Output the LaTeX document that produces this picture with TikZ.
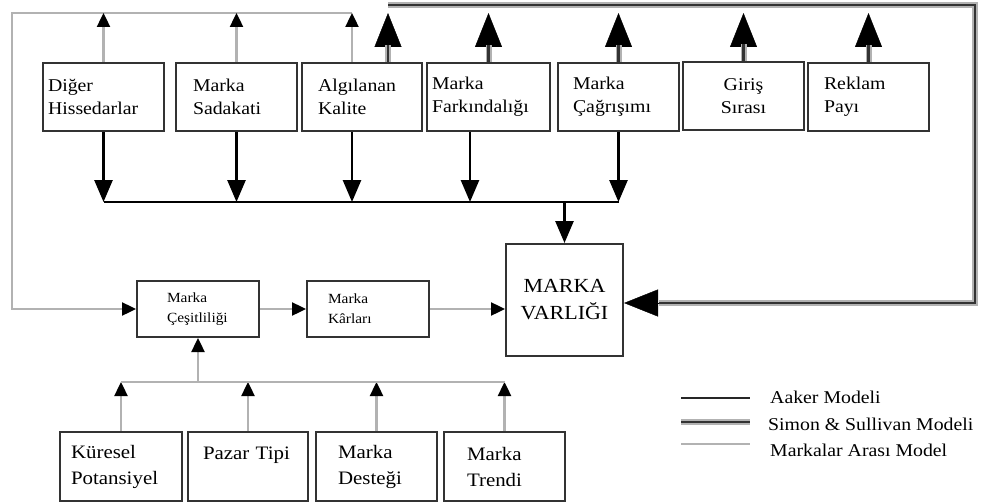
\documentclass[tikz,border=0pt]{standalone}
\usepackage{fontspec}
\setmainfont{Liberation Serif}[FakeStretch=1.1]
\usetikzlibrary{arrows.meta}
\begin{document}
\begin{tikzpicture}[x=1pt,y=-1pt,
  box/.style={draw=black!80, line width=2pt, fill=white, inner ysep=0pt},
  topbox/.style={box, minimum height=68pt, align=left, font=\fontsize{18}{23}\selectfont},
  midbox/.style={box, minimum height=56pt, align=left, font=\fontsize{14}{20}\selectfont},
  botbox/.style={box, minimum height=69pt, align=left, font=\fontsize{19}{26}\selectfont},
  legtext/.style={anchor=west, inner sep=0pt, font=\fontsize{18}{22}\selectfont},
  aak/.style={draw=black, line width=2.7pt},
  aakarrow/.style={aak, -{Triangle[width=18pt,length=22pt]}},
  gline/.style={draw=gray!60, line width=2.4pt},
  garrow/.style={gline, -{Triangle[width=13pt,length=14pt,color=black,fill=black]}},
  simline/.style={draw=gray!60, line width=6pt, postaction={draw=black!80, line width=2.6pt}},
  simtip/.style={draw=black, line width=0.4pt, -{Triangle[width=27pt,length=34pt]}}
]
\fill[white] (0,0) rectangle (988,503);
\useasboundingbox (0,0) rectangle (988,503);

% top row
\node[topbox, inner xsep=5pt, text width=111pt] (dig) at (103.5,97) {Diğer\\Hissedarlar};
\node[topbox, inner xsep=17pt, text width=87pt] (sad) at (236.5,97) {Marka\\Sadakati};
\node[topbox, inner xsep=16pt, text width=88pt] (alg) at (362,97) {Algılanan\\Kalite};
\node[topbox, inner xsep=5pt, text width=113pt] (far) at (488.5,97) {Marka\\Farkındalığı};
\node[topbox, inner xsep=15pt, text width=91pt] (cag) at (618.5,97) {Marka\\Çağrışımı};
\node[topbox, inner xsep=10pt, text width=101pt, align=center] (gir) at (743.5,96) {Giriş\\Sırası};
\node[topbox, inner xsep=16pt, text width=89pt] (rek) at (868.5,97) {Reklam\\Payı};

% central
\node[box, minimum height=112pt, inner xsep=0pt, text width=117pt, align=center,
      font=\fontsize{20}{27}\selectfont] (var) at (564.5,300) {MARKA\\VARLIĞI};
\node[midbox, inner xsep=30pt, text width=62pt] (ces) at (198,309) {Marka\\Çeşitliliği};
\node[midbox, inner xsep=21pt, text width=80pt] (kar) at (368,309) {Marka\\Kârları};

% bottom row
\node[botbox, inner xsep=11pt, text width=100pt] (kur) at (121,466.5) {Küresel\\Potansiyel};
\node[botbox, inner xsep=15pt, text width=90pt] (paz) at (248,466.5) {Pazar Tipi\\\mbox{}};
\node[botbox, inner xsep=22pt, text width=77pt] (des) at (376.5,466.5) {Marka\\Desteği};
\node[botbox, inner xsep=23pt, text width=75pt] (tre) at (504.5,466.5) {Marka\\Trendi};

% coordinates
\coordinate (g1) at (352,13);
\coordinate (g0) at (12,13);
\coordinate (hl) at (105,202);
\coordinate (a3) at (352,202);
\coordinate (a4) at (470,202);
\coordinate (bl) at (123,382);
\coordinate (s1) at (388,13);
\coordinate (st) at (388,5);
\coordinate (sr) at (975,5);
\coordinate (sb) at (975,303);
\coordinate (se) at (659,303);
\coordinate (sx) at (700,303);

% Markalar arasi model (gray)
\draw[garrow] (g1) -- (g0) |- (ces.west);
\draw[garrow] (dig.north) -- (dig.north |- g0);
\draw[garrow] (sad.north) -- (sad.north |- g0);
\draw[garrow] ([xshift=-10pt]alg.north) -- (g1);
\draw[garrow] (ces.east) -- (kar.west);
\draw[garrow] (kar.east) -- (kar.east -| var.west);
\draw[garrow] (kur.north) -- (kur.north |- bl);
\draw[garrow] (paz.north) -- (paz.north |- bl);
\draw[garrow] (des.north) -- (des.north |- bl);
\draw[garrow] (tre.north) -- (tre.north |- bl);
\draw[gline] (kur.north |- bl) -- (tre.north |- bl);
\draw[garrow] (ces.south |- bl) -- (ces.south);

% Aaker model (black)
\draw[aakarrow] (dig.south) -- (dig.south |- hl);
\draw[aakarrow] (sad.south) -- (sad.south |- hl);
\draw[aakarrow] ([xshift=-10pt]alg.south) -- (a3);
\draw[aakarrow] ([xshift=-18.5pt]far.south) -- (a4);
\draw[aakarrow] (cag.south) -- (cag.south |- hl);
\draw[aak] (dig.south |- hl) -- (cag.south |- hl);
\draw[aakarrow] (var.north |- hl) -- (var.north);

% Simon & Sullivan model (thick)
\draw[simtip] ([xshift=26pt]alg.north) -- (s1);
\draw[simline] ([xshift=26pt]alg.north) -- ++(0,-17);
\draw[simtip] (far.north) -- (far.north |- s1);
\draw[simline] (far.north) -- ++(0,-17);
\draw[simtip] (cag.north) -- (cag.north |- s1);
\draw[simline] (cag.north) -- ++(0,-17);
\draw[simtip] (gir.north) -- (gir.north |- s1);
\draw[simline] (gir.north) -- ++(0,-17);
\draw[simtip] (rek.north) -- (rek.north |- s1);
\draw[simline] (rek.north) -- ++(0,-17);
\draw[simtip] (sx) -- (sx -| var.east);
\draw[simline, line join=miter] (st) -- (sr) -- (sb) -- (se);

% legend
\coordinate (l1a) at (681,398); \coordinate (l1b) at (750,398);
\coordinate (l2a) at (681,422); \coordinate (l2b) at (750,422);
\coordinate (l3a) at (681,444); \coordinate (l3b) at (750,444);
\draw[aak, draw=black!85, line width=2.8pt] (l1a) -- (l1b);
\draw[simline] (l2a) -- (l2b);
\draw[gline] (l3a) -- (l3b);
\node[legtext] (t1) at (770,397) {Aaker Modeli};
\node[legtext] (t2) at (768,424) {Simon \& Sullivan Modeli};
\node[legtext] (t3) at (770,450) {Markalar Arası Model};
\end{tikzpicture}
\end{document}
